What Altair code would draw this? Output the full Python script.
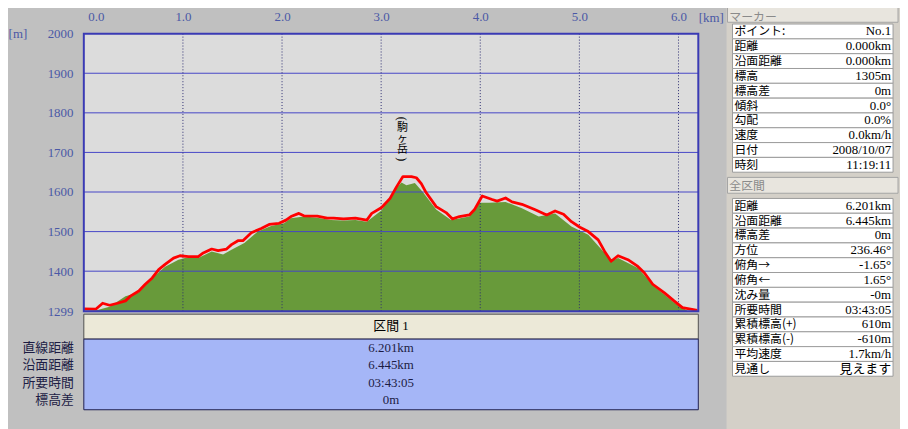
import altair as alt
import pandas as pd

# ---------------- data ----------------
# GPS track (red line): distance [km], elevation [m]
red_km = [0.0, 0.12, 0.19, 0.26, 0.34, 0.42, 0.47, 0.555, 0.62, 0.69, 0.755, 0.82, 0.905, 0.97,
          1.055, 1.155, 1.205, 1.29, 1.355, 1.44, 1.49, 1.555, 1.605, 1.69, 1.79, 1.87, 1.97,
          2.04, 2.09, 2.17, 2.22, 2.355, 2.455, 2.52, 2.62, 2.74, 2.855, 2.905, 3.005, 3.09,
          3.155, 3.22, 3.305, 3.355, 3.405, 3.455, 3.555, 3.655, 3.72, 3.79, 3.89, 3.94, 4.02,
          4.12, 4.17, 4.255, 4.32, 4.42, 4.555, 4.67, 4.755, 4.84, 4.92, 5.005, 5.09, 5.19,
          5.255, 5.32, 5.39, 5.49, 5.59, 5.655, 5.74, 5.855, 5.955, 6.04, 6.19]
red_m = [1305, 1304, 1319, 1314, 1319, 1325, 1337, 1350, 1367, 1383, 1404, 1417, 1433, 1439,
         1437, 1437, 1446, 1456, 1452, 1456, 1467, 1477, 1477, 1497, 1508, 1518, 1521,
         1529, 1538, 1546, 1540, 1539, 1534, 1534, 1532, 1534, 1529, 1546, 1561, 1584,
         1613, 1639, 1639, 1636, 1621, 1598, 1563, 1548, 1532, 1538, 1542, 1555, 1590,
         1581, 1577, 1585, 1575, 1569, 1555, 1542, 1552, 1544, 1525, 1511, 1500, 1479,
         1450, 1425, 1439, 1429, 1412, 1396, 1367, 1346, 1325, 1308, 1301]
# terrain profile (green area)
terr_km = [0.0, 0.12, 0.26, 0.42, 0.555, 0.69, 0.82, 0.955, 1.02, 1.155, 1.29, 1.405, 1.49,
           1.62, 1.755, 1.89, 2.02, 2.09, 2.22, 2.355, 2.49, 2.62, 2.74, 2.855, 3.005, 3.12,
           3.205, 3.255, 3.34, 3.42, 3.555, 3.705, 3.89, 3.99, 4.09, 4.255, 4.42, 4.59, 4.755,
           4.92, 5.09, 5.255, 5.32, 5.39, 5.59, 5.755, 5.955, 6.09, 6.2]
terr_m = [1300, 1301, 1310, 1337, 1346, 1383, 1411, 1429, 1433, 1433, 1450, 1442, 1454,
          1471, 1500, 1514, 1521, 1534, 1538, 1535, 1529, 1528, 1529, 1525, 1554, 1600,
          1624, 1617, 1623, 1600, 1556, 1529, 1538, 1573, 1573, 1575, 1559, 1538, 1546,
          1513, 1492, 1446, 1425, 1433, 1408, 1362, 1321, 1300, 1299]

x_domain = [0, 6.2]
y_domain = [1299, 2000]
x_ticks = [0, 1, 2, 3, 4, 5, 6]
y_ticks = [1299, 1400, 1500, 1600, 1700, 1800, 1900, 2000]

# vertical peak name, one character per row, bracketed by turned parentheses
peak_chars = ["駒", "ヶ", "岳"]
peak_char_m = [1762, 1734, 1705]
peak_parens = ["(", ")"]
peak_paren_m = [1785, 1683]
peak_km = 3.215

section_title = "区間 1"
section_labels = ["直線距離", "沿面距離", "所要時間", "標高差"]
section_values = ["6.201km", "6.445km", "03:43:05", "0m"]

marker_title = "マーカー"
marker_labels = ["ポイント:", "距離", "沿面距離", "標高", "標高差", "傾斜", "勾配", "速度", "日付", "時刻"]
marker_values = ["No.1", "0.000km", "0.000km", "1305m", "0m", "0.0°", "0.0%", "0.0km/h",
                 "2008/10/07", "11:19:11"]

total_title = "全区間"
total_labels = ["距離", "沿面距離", "標高差", "方位", "俯角→", "俯角←", "沈み量", "所要時間",
                "累積標高(+)", "累積標高(-)", "平均速度", "見通し"]
total_values = ["6.201km", "6.445km", "0m", "236.46°", "-1.65°", "1.65°", "-0m", "03:43:05",
                "610m", "-610m", "1.7km/h", "見えます"]

# ---------------- layout (pixel ranges in the 900x421 canvas) ----------------
PLOT_X = [76.5, 696.5]
PLOT_Y = [304, 24]
SEC_X = [76.5, 696.5]
SEC_Y = [341, 393.8]      # rows 1..4 of the section table
PAN_X = [731, 893]
PAN_Y = [14.3, 29.25]     # one row of the side tables

LATIN = "Liberation Serif, Noto Sans CJK JP"
CJK = "Noto Sans CJK JP"


def sc(d, r):
    return alt.Scale(domain=d, range=r, nice=False, zero=False)


def px(f, axis=None):
    return alt.X(f, type="quantitative", scale=sc(x_domain, PLOT_X), axis=axis)


def py(f, axis=None):
    return alt.Y(f, type="quantitative", scale=sc(y_domain, PLOT_Y), axis=axis)


def sxe(f):
    return alt.X(f, type="quantitative", scale=sc([0, 1], SEC_X), axis=None)


def sye(f):
    return alt.Y(f, type="quantitative", scale=sc([1, 4], SEC_Y), axis=None)


def pxe(f):
    return alt.X(f, type="quantitative", scale=sc([0, 1], PAN_X), axis=None)


def pye(f):
    return alt.Y(f, type="quantitative", scale=sc([0, 1], PAN_Y), axis=None)


layers = []

# ---------------- elevation profile ----------------
frame_df = pd.DataFrame({"x0": [x_domain[0]], "x1": [x_domain[1]],
                         "y0": [y_domain[0]], "y1": [y_domain[1]]})
layers.append(alt.Chart(frame_df).mark_rect(fill="#dcdcdc").encode(
    x=px("x0"), x2="x1", y=py("y0"), y2="y1"))

terr_df = pd.DataFrame({"km": terr_km, "m": terr_m, "base": y_domain[0]})
layers.append(alt.Chart(terr_df).mark_area(color="#689a3a").encode(
    x=px("km"), y=py("m"), y2="base"))

hgrid_df = pd.DataFrame({"y": y_ticks[1:-1], "x0": x_domain[0], "x1": x_domain[1]})
layers.append(alt.Chart(hgrid_df).mark_rule(color="#4646c6", strokeWidth=1).encode(
    x=px("x0"), x2="x1", y=py("y")))

vgrid_df = pd.DataFrame({"x": x_ticks[1:], "y0": y_domain[0], "y1": y_domain[1]})
layers.append(alt.Chart(vgrid_df).mark_rule(color="#2c2c70", strokeWidth=1, strokeDash=[1, 2]).encode(
    x=px("x"), y=py("y0"), y2="y1"))

red_df = pd.DataFrame({"km": red_km, "m": red_m})
layers.append(alt.Chart(red_df).mark_line(color="#ff0000", strokeWidth=2.8, strokeJoin="round").encode(
    x=px("km"), y=py("m")))

x_axis = alt.Axis(orient="top", values=x_ticks, format=".1f", labelFont=LATIN, labelFontSize=13,
                  labelColor="#4a58a6", domain=False, ticks=False, tickSize=0, grid=False,
                  labelPadding=10, offset=-24, labelFlush=True, labelFlushOffset=-4,
                  labelOverlap=False, title="[km]", titleFont=LATIN, titleFontSize=13,
                  titleFontWeight="normal", titleColor="#4a58a6", titleX=709, titleY=-16,
                  titleAlign="center", titleBaseline="middle", titleAngle=0)
y_axis = alt.Axis(orient="left", values=y_ticks, format="d", labelFont=LATIN, labelFontSize=13,
                  labelColor="#4a58a6", domain=False, ticks=False, tickSize=0, grid=False,
                  labelPadding=11, offset=-76.5, labelOverlap=False, title="[m]",
                  titleFont=LATIN, titleFontSize=13, titleFontWeight="normal",
                  titleColor="#4a58a6", titleX=-67, titleY=24, titleAlign="center",
                  titleBaseline="middle", titleAngle=0)
layers.append(alt.Chart(frame_df).mark_rect(fillOpacity=0, stroke="#3a3ab4", strokeWidth=2).encode(
    x=px("x0", x_axis), x2="x1", y=py("y0", y_axis), y2="y1"))

peak_df = pd.DataFrame({"km": peak_km, "m": peak_char_m, "t": peak_chars})
layers.append(alt.Chart(peak_df).mark_text(font=CJK, fontSize=11, color="#000000",
                                           baseline="middle").encode(
    x=px("km"), y=py("m"), text="t"))
paren_df = pd.DataFrame({"km": peak_km, "m": peak_paren_m, "t": peak_parens})
layers.append(alt.Chart(paren_df).mark_text(font=LATIN, fontSize=12, color="#000000", angle=90,
                                            baseline="middle").encode(
    x=px("km"), y=py("m"), text="t"))

# ---------------- section table below the profile ----------------
sec_head_df = pd.DataFrame({"x0": [0], "x1": [1], "y0": [-0.93], "y1": [0.5]})
layers.append(alt.Chart(sec_head_df).mark_rect(fill="#ece9d8", stroke="#505050", strokeWidth=1).encode(
    x=sxe("x0"), x2="x1", y=sye("y0"), y2="y1"))
sec_body_df = pd.DataFrame({"x0": [0], "x1": [1], "y0": [0.5], "y1": [4.55]})
layers.append(alt.Chart(sec_body_df).mark_rect(fill="#a5b6f7", stroke="#1e1e50", strokeWidth=1).encode(
    x=sxe("x0"), x2="x1", y=sye("y0"), y2="y1"))
sec_title_df = pd.DataFrame({"x": [0.5], "y": [-0.25], "t": [section_title]})
layers.append(alt.Chart(sec_title_df).mark_text(font=LATIN, fontSize=13, color="#000000",
                                                baseline="middle").encode(
    x=sxe("x"), y=sye("y"), text="t"))
sec_val_df = pd.DataFrame({"x": 0.5, "y": [1, 2, 3, 4], "t": section_values})
layers.append(alt.Chart(sec_val_df).mark_text(font=LATIN, fontSize=13, color="#1c1c44",
                                              baseline="middle").encode(
    x=sxe("x"), y=sye("y"), text="t"))
sec_lab_df = pd.DataFrame({"x": -0.016, "y": [1, 2, 3, 4], "t": section_labels})
layers.append(alt.Chart(sec_lab_df).mark_text(font=CJK, fontSize=13, color="#1c1c44",
                                              align="right", baseline="middle").encode(
    x=sxe("x"), y=sye("y"), text="t"))

# ---------------- side panel ----------------
pan_bg_df = pd.DataFrame({"x0": [-0.037], "x1": [1.2], "y0": [-2.0], "y1": [28.5]})
layers.append(alt.Chart(pan_bg_df).mark_rect(fill="#d4d0c8").encode(
    x=pxe("x0"), x2="x1", y=pye("y0"), y2="y1"))

heads_df = pd.DataFrame({"x0": [-0.031, -0.031], "x1": [1.031, 1.031],
                         "y0": [-1.2, 10.35], "y1": [-0.12, 11.42]})
layers.append(alt.Chart(heads_df).mark_rect(fill="#e8e5de", stroke="#a4a4a4", strokeWidth=1).encode(
    x=pxe("x0"), x2="x1", y=pye("y0"), y2="y1"))
head_txt_df = pd.DataFrame({"x": [-0.02, -0.02], "y": [-0.5, 10.9],
                            "t": [marker_title, total_title]})
layers.append(alt.Chart(head_txt_df).mark_text(font=CJK, fontSize=12, color="#8a8a8a",
                                               align="left", baseline="middle").encode(
    x=pxe("x"), y=pye("y"), text="t"))

row_top = [float(i) for i in range(len(marker_labels))] + \
          [11.77 + j for j in range(len(total_labels))]
rows_df = pd.DataFrame({"x0": 0, "x1": 1, "y0": row_top, "y1": [r + 1 for r in row_top],
                        "yc": [r + 0.5 for r in row_top],
                        "lab": marker_labels + total_labels,
                        "val": marker_values + total_values})
layers.append(alt.Chart(rows_df).mark_rect(fill="#ffffff", stroke="#9c9c9c", strokeWidth=1).encode(
    x=pxe("x0"), x2="x1", y=pye("y0"), y2="y1"))
layers.append(alt.Chart(rows_df).mark_text(font=CJK, fontSize=12, color="#000000",
                                           align="left", baseline="middle", dx=2).encode(
    x=pxe("x0"), y=pye("yc"), text="lab"))
layers.append(alt.Chart(rows_df).mark_text(font=LATIN, fontSize=13, color="#000000",
                                           align="right", baseline="middle", dx=-2).encode(
    x=pxe("x1"), y=pye("yc"), text="val"))

chart = alt.layer(*layers).resolve_scale(x="independent", y="independent").properties(
    width=900, height=421, padding=0, background="#c0c0c0",
    autosize=alt.AutoSizeParams(type="none"),
).configure_view(strokeWidth=0)

chart.save("out.html", embed_options={"renderer": "svg", "actions": False})
